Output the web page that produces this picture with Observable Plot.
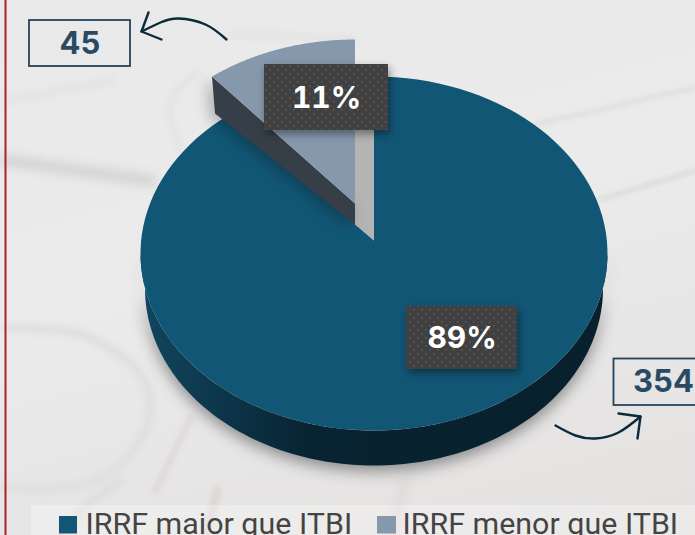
<!DOCTYPE html>
<html><head><meta charset="utf-8">
<script src="https://cdn.jsdelivr.net/npm/d3@7"></script>
<script src="https://cdn.jsdelivr.net/npm/@observablehq/plot@0.6"></script>
<style>html,body{margin:0;padding:0;overflow:hidden;background:#e6e5e5}svg{display:block}</style>
</head><body>
<script>
const categories = ["IRRF maior que ITBI", "IRRF menor que ITBI"];
const counts = [354, 45];
const shareLabels = ["89%", "11%"];
const countLabels = ["354", "45"];
const sliceColors = ["#125675", "#8698ab"];

// pie layout (tilted ellipse), in plot units
const cx = 373.5, cy = 253, rx = 233.5, ry = 177, depth = 35, rxBottom = 229;
const apex = [373.5, 240], explode = [-19, -37], tilt = 0.948, tiltSmall = 0.93;
const total = d3.sum(counts);
const share = (counts[1] / total) * 2 * Math.PI;
const ell = (a, dx = 0, dy = 0, r = rx) => ({x: cx + r * Math.sin(a) + dx, y: cy - ry * Math.cos(a) + dy});
const arc = (a0, a1, dx = 0, dy = 0, r = rx) => d3.range(0, 121).map(i => ell(a0 + (a1 - a0) * i / 120, dx, dy, r));
const pt = ([x, y]) => ({x, y});

const mainFace = [pt(apex), ...arc(0, 2 * Math.PI - share * tilt)];
const mainWall = [...arc(Math.PI / 2, 3 * Math.PI / 2), ...arc(Math.PI / 2, 3 * Math.PI / 2, 0, depth, rxBottom).reverse()];
const smallApex = [apex[0] + explode[0], apex[1] + explode[1]];
const smallFace = [pt(smallApex), ...arc(-share * tiltSmall, 0, explode[0], explode[1])];
const tip = ell(-share * tiltSmall, explode[0], explode[1]);
const smallWall = [tip, pt(smallApex), pt([smallApex[0], smallApex[1] + 21]), {x: tip.x + 3, y: tip.y + 37}];
const cutWall = [pt([smallApex[0], apex[1] - 150]), pt([apex[0], 76]), pt(apex), pt([smallApex[0], smallApex[1] + 21])];

const labelBoxes = [
  {x1: 406, x2: 517, y1: 306, y2: 369, tx: 461.5, ty: 338, t: shareLabels[0]},
  {x1: 264, x2: 388, y1: 64, y2: 130, tx: 326, ty: 98, t: shareLabels[1]}
];
const countBoxes = [
  {x1: 613.5, x2: 700, y1: 358.5, y2: 405, tx: 663, ty: 382, t: countLabels[0]},
  {x1: 29, x2: 130, y1: 20, y2: 66, tx: 79.5, ty: 44, t: countLabels[1]}
];
const arrowA = [[226, 39], [205, 24], [178, 18], [160, 22], [141, 31]].map(pt);
const arrowAHead = [[148, 12], [141, 31], [161, 39]].map(pt);
const arrowB = [[555, 425], [575, 435], [595, 438], [618, 432], [640, 416]].map(pt);
const arrowBHead = [[618, 413], [640, 416], [637, 438]].map(pt);
const legendItems = [
  {x1: 59, x2: 77, tx: 85, t: categories[0], c: sliceColors[0]},
  {x1: 377, x2: 396, tx: 402, t: categories[1], c: sliceColors[1]}
];
// faint photo texture behind the chart
const texture = [
  {pts: [[6, 160], [150, 180]], w: 13, c: "#d6d6d6", b: 4},
  {pts: [[6, 100], [112, 80]], w: 3, c: "#dcdcdc", b: 3},
  {pts: [[535, 124], [695, 87]], w: 3, c: "#dadada", b: 2},
  {pts: [[600, 199], [695, 170]], w: 3, c: "#d6d6d6", b: 2},
  {pts: [[230, 34], [355, 38]], w: 3, c: "#dddddd", b: 3},
  {pts: [[6, 327], [60, 330], [105, 345], [150, 400], [105, 475], [6, 487]], w: 8, c: "#dededd", b: 3, curve: "natural"},
  {pts: [[190, 418], [155, 490]], w: 7, c: "#e0d9d9", b: 2},
  {pts: [[217, 490], [205, 535]], w: 9, c: "#e0d6d6", b: 2},
  {pts: [[120, 480], [85, 505], [60, 535]], w: 7, c: "#dddcdc", b: 3},
  {pts: [[405, 480], [392, 530]], w: 7, c: "#dcd8d8", b: 4},
  {pts: [[180, 150], [170, 105], [195, 72]], w: 4, c: "#dfdfdf", b: 3, curve: "natural"}
];
const poly = (pts, o) => Plot.line(pts, {x: "x", y: "y", stroke: "none", curve: "linear", ...o});
const fontBold = "Inter, 'Open Sans', sans-serif";

const chart = Plot.plot({
  width: 695, height: 535, margin: 0,
  x: {domain: [0, 695], range: [0, 695], axis: null},
  y: {domain: [0, 535], range: [0, 535], axis: null},
  style: {background: "linear-gradient(165deg,#e9e9e9 0%,#ebebeb 45%,#e3e1e0 100%)", overflow: "hidden"},
  marks: [
    () => d3.create("svg:defs").html(`
      <linearGradient id="wallG" x1="0" x2="1" y1="0" y2="0">
        <stop offset="0" stop-color="#11465f"/><stop offset="0.2" stop-color="#0c3347"/>
        <stop offset="0.36" stop-color="#082331"/><stop offset="1" stop-color="#07202c"/>
      </linearGradient>
      <pattern id="dots" width="8" height="8" patternUnits="userSpaceOnUse">
        <rect width="8" height="8" fill="#404040"/>
        <rect x="1" y="1" width="1.6" height="1.6" fill="#5a5a5a"/>
        <rect x="5" y="5" width="1.6" height="1.6" fill="#5a5a5a"/>
      </pattern>`).node(),
    ...texture.map(t => Plot.line(t.pts.map(pt), {x: "x", y: "y", stroke: t.c, strokeWidth: t.w, curve: t.curve || "linear", imageFilter: `blur(${t.b}px)`})),
    Plot.ruleX([5], {stroke: "#b01e2e", strokeWidth: 2}),
    poly(mainWall, {fill: "url(#wallG)", imageFilter: "drop-shadow(0px 5px 8px rgba(0,0,0,.42))"}),
    poly(mainFace, {fill: sliceColors[0]}),
    poly(cutWall, {fill: "#b4b4b4"}),
    poly(smallWall, {fill: "#363f48", imageFilter: "drop-shadow(-5px 3px 7px rgba(0,0,0,.25))"}),
    poly(smallFace, {fill: sliceColors[1]}),
    Plot.rect(labelBoxes, {x1: "x1", x2: "x2", y1: "y1", y2: "y2", fill: "url(#dots)", imageFilter: "drop-shadow(2px 4px 4px rgba(0,0,0,.4))"}),
    Plot.text(labelBoxes, {x: "tx", y: "ty", text: "t", fill: "white", fontSize: 30, fontWeight: 700, fontFamily: fontBold, fontVariant: "tabular-nums"}),
    Plot.rect(countBoxes, {x1: "x1", x2: "x2", y1: "y1", y2: "y2", fill: "none", stroke: "#24445e", strokeWidth: 1.8}),
    Plot.text(countBoxes, {x: "tx", y: "ty", text: "t", fill: "#2a4a63", fontSize: 31, fontWeight: 700, fontFamily: fontBold}),
    Plot.line(arrowA, {x: "x", y: "y", stroke: "#0c2b3a", strokeWidth: 2.4, curve: "natural"}),
    Plot.line(arrowAHead, {x: "x", y: "y", stroke: "#0c2b3a", strokeWidth: 2.4, curve: "linear"}),
    Plot.line(arrowB, {x: "x", y: "y", stroke: "#0c2b3a", strokeWidth: 2.4, curve: "natural"}),
    Plot.line(arrowBHead, {x: "x", y: "y", stroke: "#0c2b3a", strokeWidth: 2.4, curve: "linear"}),
    Plot.rect([{x1: 31, x2: 695, y1: 505, y2: 535}], {x1: "x1", x2: "x2", y1: "y1", y2: "y2", fill: "#ffffff", fillOpacity: 0.3}),
    Plot.rect(legendItems, {x1: "x1", x2: "x2", y1: () => 516, y2: () => 533.5, fill: "c"}),
    Plot.text(legendItems, {x: "tx", y: () => 524, text: "t", textAnchor: "start", fill: "#444444", fontSize: 30.4, fontFamily: "Roboto, sans-serif"})
  ]
});
document.body.appendChild(chart);
</script>
</body></html>
